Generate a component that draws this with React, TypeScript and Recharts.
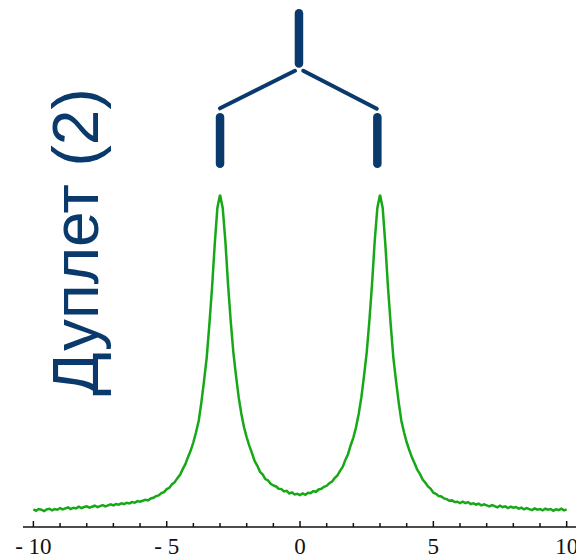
import { LineChart, Line, XAxis, YAxis, ReferenceLine, Customized } from "recharts";

// chemical shift grid, step 0.1
const shifts = [
  -10, -9.9, -9.8, -9.7, -9.6, -9.5, -9.4, -9.3, -9.2, -9.1,
  -9, -8.9, -8.8, -8.7, -8.6, -8.5, -8.4, -8.3, -8.2, -8.1,
  -8, -7.9, -7.8, -7.7, -7.6, -7.5, -7.4, -7.3, -7.2, -7.1,
  -7, -6.9, -6.8, -6.7, -6.6, -6.5, -6.4, -6.3, -6.2, -6.1,
  -6, -5.9, -5.8, -5.7, -5.6, -5.5, -5.4, -5.3, -5.2, -5.1,
  -5, -4.9, -4.8, -4.7, -4.6, -4.5, -4.4, -4.3, -4.2, -4.1,
  -4, -3.9, -3.8, -3.7, -3.6, -3.5, -3.4, -3.3, -3.2, -3.1,
  -3, -2.9, -2.8, -2.7, -2.6, -2.5, -2.4, -2.3, -2.2, -2.1,
  -2, -1.9, -1.8, -1.7, -1.6, -1.5, -1.4, -1.3, -1.2, -1.1,
  -1, -0.9, -0.8, -0.7, -0.6, -0.5, -0.4, -0.3, -0.2, -0.1,
  0,
  0.1, 0.2, 0.3, 0.4, 0.5, 0.6, 0.7, 0.8, 0.9, 1,
  1.1, 1.2, 1.3, 1.4, 1.5, 1.6, 1.7, 1.8, 1.9, 2,
  2.1, 2.2, 2.3, 2.4, 2.5, 2.6, 2.7, 2.8, 2.9, 3,
  3.1, 3.2, 3.3, 3.4, 3.5, 3.6, 3.7, 3.8, 3.9, 4,
  4.1, 4.2, 4.3, 4.4, 4.5, 4.6, 4.7, 4.8, 4.9, 5,
  5.1, 5.2, 5.3, 5.4, 5.5, 5.6, 5.7, 5.8, 5.9, 6,
  6.1, 6.2, 6.3, 6.4, 6.5, 6.6, 6.7, 6.8, 6.9, 7,
  7.1, 7.2, 7.3, 7.4, 7.5, 7.6, 7.7, 7.8, 7.9, 8,
  8.1, 8.2, 8.3, 8.4, 8.5, 8.6, 8.7, 8.8, 8.9, 9,
  9.1, 9.2, 9.3, 9.4, 9.5, 9.6, 9.7, 9.8, 9.9, 10,
];

// signal intensity (peak = 100)
const intensity = [
  5.3, 4.9, 5.4, 5.2, 4.8, 5.3, 5.5, 5.0, 5.4, 5.2,
  5.7, 5.3, 5.6, 5.9, 5.4, 5.8, 5.6, 6.1, 5.7, 6.0,
  6.2, 5.8, 6.1, 6.4, 6.0, 6.3, 6.6, 6.2, 6.5, 6.8,
  6.5, 6.9, 6.7, 7.1, 6.9, 7.3, 7.1, 7.5, 7.3, 7.8,
  7.6, 7.9, 8.2, 8.0, 8.6, 8.8, 9.3, 9.5, 10.2, 10.5,
  11.4, 11.8, 12.9, 13.5, 14.7, 15.7, 17.4, 18.9, 21.1, 23.0,
  25.5, 28.5, 32, 37.5, 44, 51, 61, 72, 85, 96,
  100, 96, 86, 73, 62, 52.5, 45.5, 39, 34, 30,
  27, 24.4, 22.2, 19.8, 18.4, 16.6, 15.8, 14.4, 14.0, 13.0,
  12.5, 12.2, 11.5, 11.4, 10.7, 10.9, 10.1, 10.4, 9.8, 10.0,
  9.6,
  10.1, 9.7, 10.3, 10.2, 10.8, 10.6, 11.3, 11.5, 12.1, 12.4,
  13.2, 13.7, 14.7, 15.5, 16.9, 18.1, 20.2, 21.9, 24.6, 26.9,
  30, 34, 39, 45.5, 52.5, 62, 73, 86, 96, 100,
  96, 85, 72, 61, 51, 44, 37.5, 32, 28.5, 25.5,
  23.1, 20.9, 19.1, 17.2, 15.9, 14.3, 13.3, 12.2, 11.5, 10.3,
  10.0, 9.3, 9.2, 8.6, 8.4, 7.9, 8.0, 7.5, 7.6, 7.2,
  7.6, 7.2, 7.5, 6.9, 7.1, 6.7, 7.0, 6.5, 6.8, 6.5,
  6.2, 6.6, 6.3, 5.9, 6.4, 6.0, 6.2, 5.7, 6.1, 5.8,
  6.0, 5.5, 5.8, 5.3, 5.7, 5.4, 5.1, 5.6, 5.2, 5.4,
  5.0, 5.5, 5.2, 5.4, 4.9, 5.3, 5.1, 5.5, 5.0, 5.3,
];

const axisTicks = [-10, -9, -8, -7, -6, -5, -4, -3, -2, -1, 0, 1, 2, 3, 4, 5, 6, 7, 8, 9, 10];

// splitting tree (shift, height)
const treeStem = [{ x: -0.04, y: 154.6 }, { x: -0.04, y: 139.5 }];
const treeLeftArm = [{ x: -0.19, y: 137.3 }, { x: -3.0, y: 126.0 }];
const treeRightArm = [{ x: 0.12, y: 137.3 }, { x: 2.88, y: 125.9 }];
const treeLeftLeg = [{ x: -3.0, y: 123.3 }, { x: -3.0, y: 109.3 }];
const treeRightLeg = [{ x: 2.9, y: 123.3 }, { x: 2.9, y: 109.3 }];

const spectrum = shifts.map((shift, i) => ({ shift, value: intensity[i] }));

const navy = "#0a3a6b";

function ShiftTick({ x, y, payload }: any) {
  const v = payload.value;
  const major = v % 5 === 0;
  return (
    <g>
      <line x1={x} x2={x} y1={y} y2={y - (major ? 6 : 4)} stroke="#111" strokeWidth={1.5} />
      {major && (
        <text
          x={x}
          y={y + 26.5}
          textAnchor="middle"
          fontFamily="'Liberation Serif', 'Times New Roman', serif"
          fontSize={23}
          fill="#111"
        >
          {v < 0 ? `- ${-v}` : String(v)}
        </text>
      )}
    </g>
  );
}

function Title() {
  return (
    <text
      transform="translate(98,242) rotate(-90)"
      textAnchor="middle"
      fontFamily="'Liberation Sans', Arial, sans-serif"
      fontSize={64}
      fill={navy}
    >
      Дуплет (2)
    </text>
  );
}

export default function App() {
  const bar = { stroke: navy, strokeWidth: 8.5, strokeLinecap: "round" as const };
  const arm = { stroke: navy, strokeWidth: 4, strokeLinecap: "round" as const };
  return (
    <div style={{ position: "absolute", left: 0, top: 0, width: 576, height: 558, background: "#fff" }}>
      <LineChart width={576} height={558} data={spectrum} margin={{ top: 2, right: 0, bottom: 0, left: 23 }}>
        <XAxis
          dataKey="shift"
          type="number"
          domain={[-10.39, 10.35]}
          allowDataOverflow
          ticks={axisTicks}
          interval={0}
          height={31}
          tickSize={0}
          tickMargin={0}
          tickLine={false}
          axisLine={{ stroke: "#111", strokeWidth: 1.5 }}
          tick={<ShiftTick />}
        />
        <YAxis hide type="number" domain={[0, 158]} allowDataOverflow />
        <ReferenceLine segment={treeStem} {...bar} />
        <ReferenceLine segment={treeLeftArm} {...arm} />
        <ReferenceLine segment={treeRightArm} {...arm} />
        <ReferenceLine segment={treeLeftLeg} {...bar} />
        <ReferenceLine segment={treeRightLeg} {...bar} />
        <Line
          type="linear"
          dataKey="value"
          stroke="#17a817"
          strokeWidth={2.5}
          dot={false}
          isAnimationActive={false}
        />
        <Customized component={<Title />} />
      </LineChart>
    </div>
  );
}
